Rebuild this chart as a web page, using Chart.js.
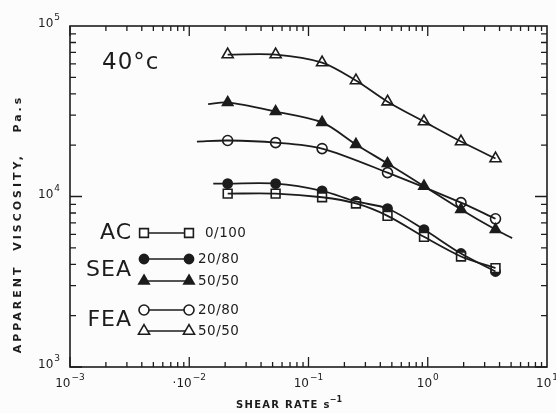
<!DOCTYPE html>
<html lang="en">
    <head>
        <meta charset="UTF-8" />
        <title>Apparent viscosity vs shear rate, 40 °C</title>
        <script src="https://cdn.jsdelivr.net/npm/chart.js"></script>
        <style>
            html, body {
                margin: 0;
                padding: 0;
                background: #fcfcfc;
            }
            #wrap {
                width: 556px;
                height: 413px;
            }
        </style>
    </head>
    <body>
        <div id="wrap"><canvas id="viscChart" width="556" height="413"></canvas></div>

        <script>
	// shear rate (1/s) and apparent viscosity (Pa.s), 40 °C
	const shearRate = [0.021, 0.053, 0.13, 0.25, 0.46, 0.93, 1.9, 3.7];
	const acVisc = [10400, 10400, 9900, 9100, 7700, 5800, 4450, 3800];
	const sea2080Visc = [11900, 11900, 10800, 9350, 8500, 6400, 4630, 3630];
	const sea5050Visc = [35600, 31500, 27200, 20200, 15600, 11500, 8400, 6400];
	const fea2080Rate = [0.021, 0.053, 0.13, 0.46, 1.9, 3.7];
	const fea2080Visc = [21300, 20700, 19100, 13800, 9200, 7400];
	const fea5050Visc = [68000, 68000, 61000, 47900, 36000, 27500, 21000, 16700];

	// where the fitted curves run past the measured points
	const sea2080Lead = {x: 0.0159, y: 11900};
	const sea5050Lead = {x: 0.0144, y: 34800};
	const sea5050Tail = {x: 5.1, y: 5700};
	const fea2080Lead = {x: 0.0116, y: 21000};

	const xTickValues = [1e-3, 1e-2, 1e-1, 1, 10];
	const xTickBases = ['10', '·10', '10', '10', '10'];
	const xTickExps = ['-3', '-2', '-1', '0', '1'];
	const yTickValues = [1e3, 1e4, 1e5];
	const yTickExps = ['3', '4', '5'];

	const legendGroups = ['AC', 'SEA', 'FEA'];
	const legendRatios = ['0/100', '20/80', '50/50', '20/80', '50/50'];

	const INK = '#1c1c1c';
	const FONT = '"DejaVu Sans", sans-serif';

	const pts = (xs, ys) => xs.map((x, i) => ({x, y: ys[i]}));

	const series = [
		{data: pts(shearRate, acVisc), style: 'rect', radius: 6.2, fill: '#ffffff'},
		{data: pts(shearRate, sea2080Visc), style: 'circle', radius: 4.6, fill: INK},
		{data: pts(shearRate, sea5050Visc), style: 'triangle', radius: 6, fill: INK},
		{data: pts(fea2080Rate, fea2080Visc), style: 'circle', radius: 5, fill: '#ffffff'},
		{data: pts(shearRate, fea5050Visc), style: 'triangle', radius: 6.4, fill: '#ffffff'}
	];
	const curves = [
		series[0].data,
		[sea2080Lead, ...series[1].data],
		[sea5050Lead, ...series[2].data, sea5050Tail],
		[fea2080Lead, ...series[3].data],
		series[4].data
	];

	const datasets = [];
	curves.forEach(c => datasets.push({
			data: c,
			borderColor: INK,
			borderWidth: 1.8,
			pointRadius: 0,
			tension: 0.3,
			fill: false
		}));
	series.forEach(s => datasets.push({
			data: s.data,
			showLine: false,
			pointStyle: s.style,
			pointRadius: s.radius,
			pointBorderWidth: 1.6,
			pointBorderColor: INK,
			pointBackgroundColor: s.fill
		}));

	// "10" with a raised exponent; align is 'center' or 'right'
	function drawPower(ctx, base, exp, x, y, align) {
		const e = exp.replace('-', '−');
		ctx.font = '12px ' + FONT;
		const bw = ctx.measureText(base).width;
		ctx.font = '9px ' + FONT;
		const ew = ctx.measureText(e).width;
		const total = bw + ew + 1;
		const x0 = align === 'right' ? x - total : x - total / 2;
		ctx.textAlign = 'left';
		ctx.font = '12px ' + FONT;
		ctx.fillText(base, x0, y);
		ctx.font = '9px ' + FONT;
		ctx.fillText(e, x0 + bw + 1, y - 6);
	}

	// box, inward ticks on all four sides
	const framePlugin = {
		id: 'frame',
		beforeDatasetsDraw(chart) {
			const ctx = chart.ctx;
			const {left, right, top, bottom} = chart.chartArea;
			const xs = chart.scales.x, ys = chart.scales.y;
			ctx.save();
			ctx.strokeStyle = INK;
			ctx.lineWidth = 1.6;
			ctx.strokeRect(left, top, right - left, bottom - top);
			ctx.lineWidth = 1.3;
			ctx.beginPath();
			for (let e = -3; e <= 0; e++) {
				for (let m = 1; m <= 9; m++) {
					const px = xs.getPixelForValue(m * Math.pow(10, e));
					const len = m === 1 ? 10 : 5;
					ctx.moveTo(px, bottom);
					ctx.lineTo(px, bottom - len);
					ctx.moveTo(px, top);
					ctx.lineTo(px, top + len);
				}
			}
			for (let e = 3; e <= 4; e++) {
				for (let m = 1; m <= 9; m++) {
					const py = ys.getPixelForValue(m * Math.pow(10, e));
					const len = m === 1 ? 12 : 6;
					ctx.moveTo(left, py);
					ctx.lineTo(left + len, py);
					ctx.moveTo(right, py);
					ctx.lineTo(right - len, py);
				}
			}
			ctx.stroke();
			ctx.restore();
		},
		afterDatasetsDraw(chart) {
			const ctx = chart.ctx;
			const {left, bottom} = chart.chartArea;
			const xs = chart.scales.x, ys = chart.scales.y;
			ctx.save();
			ctx.fillStyle = INK;
			ctx.textBaseline = 'middle';

			// tick labels
			xTickValues.forEach((v, i) => {
				drawPower(ctx, xTickBases[i], xTickExps[i], xs.getPixelForValue(v), bottom + 17, 'center');
			});
			yTickValues.forEach((v, i) => {
				drawPower(ctx, '10', yTickExps[i], left - 10, ys.getPixelForValue(v) - 2, 'right');
			});

			// axis titles
			ctx.font = 'bold 10px ' + FONT;
			ctx.letterSpacing = '1.3px';
			ctx.textAlign = 'left';
			const xTitle = 'SHEAR RATE s';
			ctx.fillText(xTitle, 236, 405);
			const tw = ctx.measureText(xTitle).width;
			ctx.font = 'bold 8px ' + FONT;
			ctx.letterSpacing = '0px';
			ctx.fillText('−1', 236 + tw - 1, 400);

			ctx.font = 'bold 11px ' + FONT;
			ctx.letterSpacing = '3px';
			ctx.textAlign = 'center';
			ctx.save();
			ctx.translate(18, 224);
			ctx.rotate(-Math.PI / 2);
			ctx.fillText('APPARENT  VISCOSITY,   Pa.s', 0, 0);
			ctx.restore();

			// temperature
			ctx.letterSpacing = '1px';
			ctx.font = '23px ' + FONT;
			ctx.textAlign = 'left';
			ctx.fillText('40°c', 102, 63);

			// legend
			const groupY = [233, 270, 320];
			ctx.font = '22px ' + FONT;
			ctx.textAlign = 'right';
			legendGroups.forEach((g, i) => ctx.fillText(g, 132, groupY[i]));

			const rowY = [233, 259, 281, 310, 331];
			const x0 = 144, x1 = 189;
			ctx.font = '13.5px ' + FONT;
			ctx.letterSpacing = '0.5px';
			series.forEach((s, i) => {
				const y = rowY[i];
				ctx.strokeStyle = INK;
				ctx.lineWidth = 1.7;
				ctx.beginPath();
				ctx.moveTo(x0, y);
				ctx.lineTo(x1, y);
				ctx.stroke();
				[x0, x1].forEach(px => {
					ctx.fillStyle = s.fill;
					ctx.lineWidth = 1.6;
					Chart.helpers.drawPoint(ctx, {pointStyle: s.style, radius: s.radius, rotation: 0, borderWidth: 1.6}, px, y);
				});
				ctx.fillStyle = INK;
				ctx.textAlign = 'left';
				ctx.fillText(legendRatios[i], i === 0 ? 205 : 198, y);
			});
			ctx.restore();
		}
	};

	new Chart(document.getElementById('viscChart'), {
		type: 'line',
		data: {datasets},
		options: {
			responsive: false,
			animation: false,
			layout: {padding: {left: 70, right: 9, top: 26, bottom: 46}},
			plugins: {legend: {display: false}, tooltip: {enabled: false}},
			scales: {
				x: {type: 'logarithmic', min: 1e-3, max: 10, display: false},
				y: {type: 'logarithmic', min: 1e3, max: 1e5, display: false}
			}
		},
		plugins: [framePlugin]
	});
        </script>
    </body>
</html>
